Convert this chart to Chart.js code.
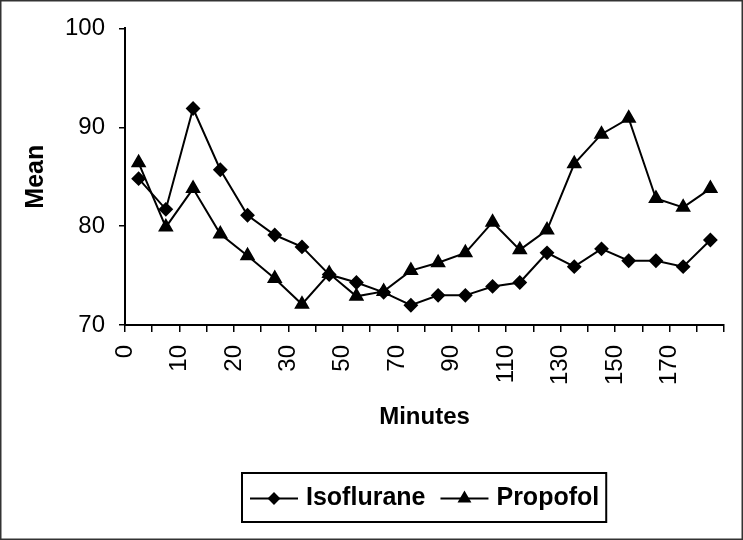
<!DOCTYPE html>
<html>
<head>
<meta charset="utf-8">
<script src="https://cdn.jsdelivr.net/npm/chart.js@4.4.1/dist/chart.umd.min.js"></script>
<style>
  body { margin: 0; background: #fff; }
  canvas { display: block; }
</style>
</head>
<body>
<canvas id="chart" width="743" height="540"></canvas>
<script>
// minutes for each sample, only every other one gets a label on the axis
const minutes = [0, 5, 10, 15, 20, 25, 30, 40, 50, 60, 70, 80, 90, 100, 110, 120, 130, 140, 150, 160, 170, 180];
const isoflurane = [84.8, 81.7, 91.9, 85.7, 81.1, 79.1, 77.9, 75.1, 74.3, 73.3, 72.0, 73.0, 73.0, 73.9, 74.3, 77.3, 75.9, 77.7, 76.5, 76.5, 75.9, 78.6];
const propofol = [86.4, 79.9, 83.8, 79.2, 77.0, 74.7, 72.1, 75.2, 72.9, 73.4, 75.5, 76.3, 77.3, 80.4, 77.6, 79.6, 86.3, 89.3, 90.9, 82.8, 81.9, 83.8];
const yTicks = [70, 80, 90, 100];

Chart.defaults.font.family = '"Liberation Sans", Arial, sans-serif';
Chart.defaults.color = '#000';

// legend drawn by hand: line sample with marker, inside a box
const boxLegend = {
    id: 'boxLegend',
    afterDraw(chart) {
        const ctx = chart.ctx;
        const area = chart.chartArea;
        ctx.save();
        ctx.font = 'bold 25px "Liberation Sans", Arial, sans-serif';
        let widths = chart.data.datasets.map(ds => ctx.measureText(ds.label).width);
        let total = 8;
        widths.forEach(w => { total += 48 + 8 + w + 15; });
        total -= 8;
        let left = Math.round((area.left + area.right) / 2 - total / 2);
        let top = 473, h = 49;
        let cy = top + h / 2 + 1;

        ctx.strokeStyle = '#000';
        ctx.lineWidth = 2;
        ctx.strokeRect(left, top, total, h);

        let x = left + 8;
        chart.data.datasets.forEach((ds, i) => {
            ctx.strokeStyle = '#000';
            ctx.lineWidth = 2;
            ctx.beginPath();
            ctx.moveTo(x, cy);
            ctx.lineTo(x + 48, cy);
            ctx.stroke();
            ctx.fillStyle = '#000';
            Chart.helpers.drawPoint(ctx, {
                pointStyle: ds.pointStyle,
                radius: ds.pointRadius - 1,
                borderWidth: 1,
                rotation: 0
            }, x + 24, cy);
            ctx.fill();
            ctx.fillStyle = '#000';
            ctx.textBaseline = 'middle';
            ctx.textAlign = 'left';
            ctx.fillText(ds.label, x + 56, cy);
            x += 48 + 8 + widths[i] + 15;
        });

        // thin frame round the whole picture
        ctx.strokeStyle = '#333';
        ctx.lineWidth = 1.5;
        ctx.strokeRect(0.75, 0.75, chart.width - 1.5, chart.height - 1.5);
        ctx.restore();
    }
};

new Chart('chart', {
    type: 'line',
    data: {
        labels: minutes,
        datasets: [
            {
                label: 'Isoflurane',
                data: isoflurane,
                borderColor: '#000',
                backgroundColor: '#000',
                borderWidth: 2,
                pointStyle: 'rectRot',
                pointRadius: 6,
                tension: 0
            },
            {
                label: 'Propofol',
                data: propofol,
                borderColor: '#000',
                backgroundColor: '#000',
                borderWidth: 2,
                pointStyle: 'triangle',
                pointRadius: 7,
                tension: 0
            }
        ]
    },
    options: {
        responsive: false,
        animation: false,
        layout: { padding: { top: 27, right: 19, bottom: 100, left: 0 } },
        plugins: {
            legend: { display: false },
            tooltip: { enabled: false }
        },
        scales: {
            x: {
                type: 'category',
                offset: true,
                afterFit: (scale) => {
                    scale.height = 115;
                    scale.paddingLeft = 0;
                    scale.paddingRight = 0;
                },
                grid: { offset: true, drawOnChartArea: false, drawTicks: true, tickLength: 7, color: '#000', lineWidth: 1.5 },
                border: { display: true, color: '#000', width: 2 },
                ticks: {
                    autoSkip: false,
                    minRotation: 90,
                    maxRotation: 90,
                    padding: 13,
                    labelOffset: -13.6,
                    font: { size: 24 },
                    callback: (v, i) => i % 2 === 0 ? String(minutes[i]) : ''
                },
                title: {
                    display: true,
                    text: 'Minutes',
                    font: { size: 24, weight: 'bold' },
                    padding: { top: 0, bottom: 8 }
                }
            },
            y: {
                min: yTicks[0],
                max: yTicks[yTicks.length - 1],
                afterFit: (scale) => { scale.width = 125; },
                afterBuildTicks: (scale) => { scale.ticks = yTicks.map(v => ({ value: v })); },
                grid: { drawOnChartArea: false, drawTicks: true, tickLength: 6, color: '#000', lineWidth: 1.5 },
                border: { display: true, color: '#000', width: 2 },
                ticks: { padding: 14, font: { size: 24 } },
                title: {
                    display: true,
                    text: 'Mean',
                    font: { size: 25, weight: 'bold' },
                    padding: { top: 21, bottom: 0 }
                }
            }
        }
    },
    plugins: [boxLegend]
});
</script>
</body>
</html>
